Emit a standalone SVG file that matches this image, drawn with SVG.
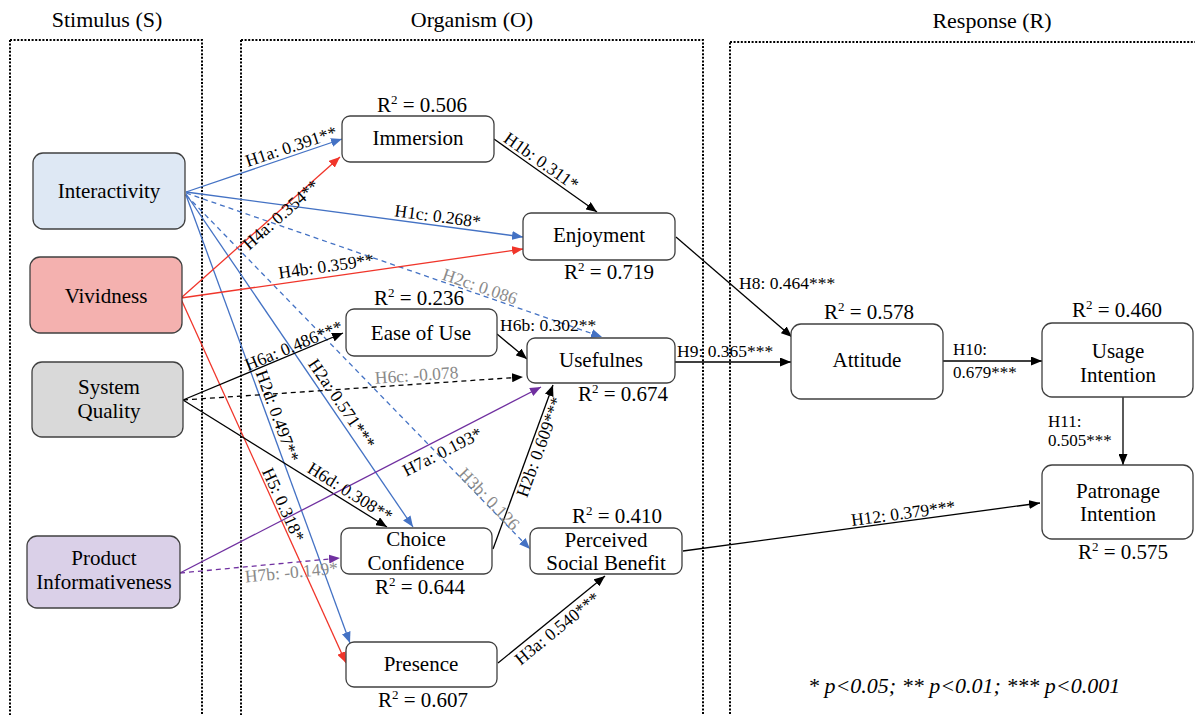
<svg xmlns="http://www.w3.org/2000/svg" width="1195" height="715" viewBox="0 0 1195 715">
<defs>
<style>
text{font-family:"Liberation Serif","Times New Roman",serif;fill:#000}
.title{font-size:22px;text-anchor:middle}
.nt{font-size:21px;text-anchor:middle}
.r2{font-size:21px;text-anchor:middle}
.el{font-size:17.5px;text-anchor:middle}
.els{font-size:17.5px}
.sm{font-size:17px}
.gray{fill:#8a8a8a}
.legend{font-size:22px;font-style:italic}
.node rect{stroke:#404040;stroke-width:1.3}
.box{fill:none;stroke:#000;stroke-width:2;stroke-dasharray:2 1.6}
.c{fill:none;stroke-width:1.3}
.blue{stroke:#4472c4}
.red{stroke:#f0352a}
.blk{stroke:#000}
.pur{stroke:#7030a0}
.dash{stroke-dasharray:5 4}
</style>
<marker id="ab" markerUnits="userSpaceOnUse" markerWidth="11" markerHeight="9" refX="11" refY="4.5" orient="auto"><path d="M0,0 L11,4.5 L0,9 z" fill="#4472c4"/></marker>
<marker id="ar" markerUnits="userSpaceOnUse" markerWidth="11" markerHeight="9" refX="11" refY="4.5" orient="auto"><path d="M0,0 L11,4.5 L0,9 z" fill="#f0352a"/></marker>
<marker id="ak" markerUnits="userSpaceOnUse" markerWidth="11" markerHeight="9" refX="11" refY="4.5" orient="auto"><path d="M0,0 L11,4.5 L0,9 z" fill="#000"/></marker>
<marker id="ap" markerUnits="userSpaceOnUse" markerWidth="11" markerHeight="9" refX="11" refY="4.5" orient="auto"><path d="M0,0 L11,4.5 L0,9 z" fill="#7030a0"/></marker>
</defs>
<rect width="1195" height="715" fill="#fff"/>

<g id="containers">
<rect class="box" x="10" y="40" width="192" height="700"/>
<rect class="box" x="241" y="40" width="462" height="700"/>
<rect class="box" x="730" y="42" width="500" height="700"/>
<text class="title" x="107" y="27">Stimulus (S)</text>
<text class="title" x="472" y="27">Organism (O)</text>
<text class="title" x="992" y="28">Response (R)</text>
</g>

<g id="connectors">
<path class="c blue" d="M186,192 L342,139" marker-end="url(#ab)"/>
<path class="c blue" d="M186,192 L523,237" marker-end="url(#ab)"/>
<path class="c blue dash" d="M186,193 L602,337" marker-end="url(#ab)"/>
<path class="c blue" d="M186,194 L413,527" marker-end="url(#ab)"/>
<path class="c blue" d="M186,195 L350,643" marker-end="url(#ab)"/>
<path class="c blue dash" d="M186,195 L530,549" marker-end="url(#ab)"/>
<path class="c red" d="M181,298 L340,157" marker-end="url(#ar)"/>
<path class="c red" d="M181,298 L523,249" marker-end="url(#ar)"/>
<path class="c red" d="M181,299 L346,663" marker-end="url(#ar)"/>
<path class="c blk" d="M183,400 L343,333" marker-end="url(#ak)"/>
<path class="c blk dash" d="M183,400 L523,377" marker-end="url(#ak)"/>
<path class="c blk" d="M183,400 L387,527" marker-end="url(#ak)"/>
<path class="c pur" d="M180,573 L541,387" marker-end="url(#ap)"/>
<path class="c pur dash" d="M180,573 L340,558" marker-end="url(#ap)"/>
<path class="c blk" d="M494,139 L597,212" marker-end="url(#ak)"/>
<path class="c blk" d="M497,334 L527,359" marker-end="url(#ak)"/>
<path class="c blk" d="M493,549 L553,385" marker-end="url(#ak)"/>
<path class="c blk" d="M498,663 L605,576" marker-end="url(#ak)"/>
<path class="c blk" d="M676,237 L792,337" marker-end="url(#ak)"/>
<path class="c blk" d="M675,362 L791,362" marker-end="url(#ak)"/>
<path class="c blk" d="M943,361 L1042,361" marker-end="url(#ak)"/>
<path class="c blk" d="M1123,397 L1123,465" marker-end="url(#ak)"/>
<path class="c blk" d="M683,551 L1040,503" marker-end="url(#ak)"/>

<text class="el" x="293" y="152" transform="rotate(-18.4 293 152)">H1a: 0.391**</text>
<text class="el" x="437" y="222" transform="rotate(7.6 437 222)">H1c: 0.268*</text>
<text class="el gray" x="478" y="292" transform="rotate(19 478 292)">H2c: 0.086</text>
<text class="el" x="337" y="407" transform="rotate(55.6 337 407)">H2a: 0.571***</text>
<text class="el" x="272" y="418" transform="rotate(69.8 272 418)">H2d: 0.497**</text>
<text class="el gray" x="485" y="503" transform="rotate(45.8 485 503)">H3b: 0.126</text>
<text class="el" x="285" y="219" transform="rotate(-41.6 285 219)">H4a: 0.354**</text>
<text class="el" x="327" y="272" transform="rotate(-8.2 327 272)">H4b: 0.359**</text>
<text class="el" x="278" y="507" transform="rotate(65.6 278 507)">H5: 0.318*</text>
<text class="el" x="296" y="351" transform="rotate(-22.7 296 351)">H6a: 0.486***</text>
<text class="el gray" x="417" y="381" transform="rotate(-3.9 417 381)">H6c: -0.078</text>
<text class="el" x="347" y="497" transform="rotate(31.9 347 497)">H6d: 0.308**</text>
<text class="el" x="445" y="457" transform="rotate(-27.3 445 457)">H7a: 0.193*</text>
<text class="el gray" x="292" y="578" transform="rotate(-5.4 292 578)">H7b: -0.149*</text>
<text class="el" x="538" y="166" transform="rotate(35.3 538 166)">H1b: 0.311*</text>
<text class="els" x="500" y="331">H6b: 0.302**</text>
<text class="el" x="545" y="449" transform="rotate(-69.9 545 449)">H2b: 0.609***</text>
<text class="el" x="561" y="633" transform="rotate(-39.1 561 633)">H3a: 0.540***</text>
<text class="els" x="739" y="289">H8: 0.464***</text>
<text class="els" x="677" y="357">H9: 0.365***</text>
<text class="sm" x="953" y="355">H10:</text>
<text class="sm" x="953" y="378">0.679***</text>
<text class="sm" x="1048" y="427">H11:</text>
<text class="sm" x="1048" y="446">0.505***</text>
<text class="el" x="904" y="519" transform="rotate(-7.7 904 519)">H12: 0.379***</text>
</g>

<g id="interactivity" class="node"><rect x="33" y="153" width="152" height="76" rx="10" fill="#dee8f4"/><text class="nt" x="109" y="198">Interactivity</text></g>
<g id="vividness" class="node"><rect x="30" y="257" width="152" height="76" rx="10" fill="#f4b1af"/><text class="nt" x="106" y="303">Vividness</text></g>
<g id="system-quality" class="node"><rect x="32" y="362" width="151" height="75" rx="10" fill="#d9d9d9"/><text class="nt" x="109" y="394">System</text><text class="nt" x="109" y="418">Quality</text></g>
<g id="product-informativeness" class="node"><rect x="27" y="536" width="153" height="72" rx="10" fill="#dad0e8"/><text class="nt" x="104" y="565">Product</text><text class="nt" x="104" y="589">Informativeness</text></g>

<g id="immersion" class="node"><rect x="342" y="116" width="152" height="46" rx="8" fill="#fff"/><text class="nt" x="418" y="145">Immersion</text><text class="r2" x="422" y="112">R<tspan dy="-8" font-size="13">2</tspan><tspan dy="8"> = 0.506</tspan></text></g>
<g id="enjoyment" class="node"><rect x="523" y="213" width="152" height="47" rx="8" fill="#fff"/><text class="nt" x="599" y="242">Enjoyment</text><text class="r2" x="609" y="279">R<tspan dy="-8" font-size="13">2</tspan><tspan dy="8"> = 0.719</tspan></text></g>
<g id="ease-of-use" class="node"><rect x="346" y="309" width="151" height="47" rx="8" fill="#fff"/><text class="nt" x="421" y="340">Ease of Use</text><text class="r2" x="419" y="305">R<tspan dy="-8" font-size="13">2</tspan><tspan dy="8"> = 0.236</tspan></text></g>
<g id="usefulnes" class="node"><rect x="527" y="338" width="148" height="45" rx="8" fill="#fff"/><text class="nt" x="601" y="367">Usefulnes</text><text class="r2" x="623" y="401">R<tspan dy="-8" font-size="13">2</tspan><tspan dy="8"> = 0.674</tspan></text></g>
<g id="choice-confidence" class="node"><rect x="341" y="528" width="151" height="46" rx="8" fill="#fff"/><text class="nt" x="416" y="546">Choice</text><text class="nt" x="416" y="570">Confidence</text><text class="r2" x="420" y="594">R<tspan dy="-8" font-size="13">2</tspan><tspan dy="8"> = 0.644</tspan></text></g>
<g id="presence" class="node"><rect x="346" y="642" width="151" height="45" rx="8" fill="#fff"/><text class="nt" x="421" y="671">Presence</text><text class="r2" x="423" y="707">R<tspan dy="-8" font-size="13">2</tspan><tspan dy="8"> = 0.607</tspan></text></g>
<g id="perceived-social-benefit" class="node"><rect x="530" y="528" width="152" height="46" rx="8" fill="#fff"/><text class="nt" x="606" y="547">Perceived</text><text class="nt" x="606" y="570">Social Benefit</text><text class="r2" x="617" y="523">R<tspan dy="-8" font-size="13">2</tspan><tspan dy="8"> = 0.410</tspan></text></g>

<g id="attitude" class="node"><rect x="791" y="324" width="152" height="75" rx="10" fill="#fff"/><text class="nt" x="867" y="367">Attitude</text><text class="r2" x="869" y="319">R<tspan dy="-8" font-size="13">2</tspan><tspan dy="8"> = 0.578</tspan></text></g>
<g id="usage-intention" class="node"><rect x="1042" y="323" width="151" height="74" rx="10" fill="#fff"/><text class="nt" x="1118" y="358">Usage</text><text class="nt" x="1118" y="382">Intention</text><text class="r2" x="1117" y="317">R<tspan dy="-8" font-size="13">2</tspan><tspan dy="8"> = 0.460</tspan></text></g>
<g id="patronage-intention" class="node"><rect x="1042" y="465" width="151" height="74" rx="10" fill="#fff"/><text class="nt" x="1118" y="498">Patronage</text><text class="nt" x="1118" y="521">Intention</text><text class="r2" x="1123" y="559">R<tspan dy="-8" font-size="13">2</tspan><tspan dy="8"> = 0.575</tspan></text></g>

<text class="legend" x="808" y="693">* p&lt;0.05; ** p&lt;0.01; *** p&lt;0.001</text>
</svg>
